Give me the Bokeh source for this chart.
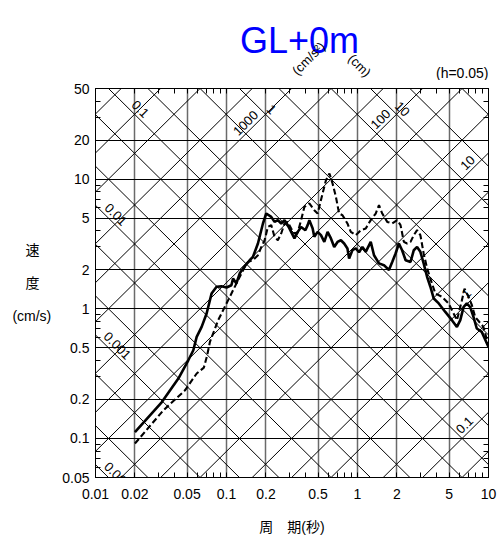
import math
from bokeh.plotting import figure
from bokeh.layouts import column
from bokeh.models import (LogAxis, FixedTicker, CustomJSTickFormatter, Label, Range1d)
from bokeh.embed import file_html
from bokeh.resources import INLINE

# ---------------- data ----------------
period_solid = [0.02, 0.0321, 0.0429, 0.0511, 0.0558, 0.0592, 0.0646, 0.0705, 0.0769, 0.084,
                0.0916, 0.1, 0.109, 0.1122, 0.119, 0.126, 0.1337, 0.1503, 0.159, 0.1738,
                0.1898, 0.201, 0.2196, 0.2326, 0.2466, 0.2616, 0.2773, 0.2937, 0.3115, 0.330,
                0.350, 0.371, 0.400, 0.4165, 0.429, 0.4546, 0.468, 0.496, 0.526, 0.558,
                0.591, 0.627, 0.664, 0.704, 0.747, 0.791, 0.838, 0.863, 0.914, 0.970,
                1.028, 1.09, 1.156, 1.262, 1.337, 1.459, 1.592, 1.738, 1.841, 1.953,
                2.07, 2.19, 2.33, 2.54, 2.69, 2.85, 3.02, 3.20, 3.40, 3.60,
                3.82, 4.17, 4.68, 5.26, 5.74, 6.09, 6.45, 6.83, 7.25, 7.68,
                8.14, 8.88, 10.0]
velocity_solid = [0.112, 0.191, 0.290, 0.401, 0.479, 0.607, 0.725, 0.920, 1.31, 1.48,
                  1.49, 1.46, 1.52, 1.71, 1.57, 1.87, 2.05, 2.37, 2.51, 3.19,
                  4.55, 5.43, 5.12, 4.68, 4.83, 4.55, 4.83, 4.42, 3.92, 3.49,
                  3.92, 4.28, 4.04, 4.42, 4.83, 4.16, 3.59, 3.92, 3.70, 3.28,
                  3.92, 3.49, 3.00, 3.28, 3.38, 3.19, 2.92, 2.44, 2.83, 2.92,
                  2.73, 3.00, 2.75, 3.28, 2.59, 2.24, 2.17, 1.99, 2.30, 2.67,
                  3.19, 2.83, 2.37, 2.30, 2.83, 3.00, 2.75, 2.24, 1.76, 1.48,
                  1.20, 1.10, 0.946, 0.817, 0.725, 0.817, 1.03, 1.10, 1.03, 0.866,
                  0.705, 0.664, 0.508]

period_dashed = [0.02, 0.033, 0.0482, 0.0592, 0.0672, 0.0712, 0.0747, 0.0864, 0.1, 0.1122,
                 0.126, 0.1378, 0.146, 0.159, 0.1738, 0.1845, 0.1954, 0.207, 0.2196, 0.2326,
                 0.2466, 0.2616, 0.2773, 0.2937, 0.3115, 0.330, 0.350, 0.371, 0.393, 0.429,
                 0.468, 0.496, 0.5415, 0.5744, 0.611, 0.645, 0.684, 0.724, 0.768, 0.838,
                 0.889, 0.970, 1.06, 1.156, 1.262, 1.377, 1.459, 1.545, 1.687, 1.841,
                 2.01, 2.13, 2.26, 2.39, 2.54, 2.69, 2.85, 3.02, 3.20, 3.40,
                 3.60, 3.93, 4.41, 4.96, 5.74, 6.26, 6.56, 7.03, 7.46, 7.91,
                 9.15, 10.0]
velocity_dashed = [0.0914, 0.165, 0.235, 0.317, 0.352, 0.438, 0.555, 0.817, 1.10, 1.39,
                   1.76, 2.10, 2.30, 2.37, 2.59, 3.00, 3.38, 4.28, 4.42, 3.59,
                   3.38, 3.81, 4.55, 4.68, 4.16, 3.81, 3.90, 4.83, 6.11, 6.49,
                   5.76, 5.43, 7.76, 9.82, 11.06, 9.26, 7.30, 5.43, 5.27, 4.55,
                   3.92, 3.70, 4.04, 4.16, 4.83, 5.43, 6.30, 5.43, 4.68, 4.55,
                   4.83, 4.42, 3.28, 3.19, 3.28, 3.70, 4.04, 3.70, 2.67, 2.05,
                   1.71, 1.31, 1.24, 1.10, 0.817, 1.16, 1.43, 1.24, 1.07, 0.866,
                   0.725, 0.52]

x_ticks = [0.01, 0.02, 0.05, 0.1, 0.2, 0.5, 1, 2, 5, 10]
x_tick_labels = ["0.01", "0.02", "0.05", "0.1", "0.2", "0.5", "1", "2", "5", "10"]
y_ticks = [0.05, 0.1, 0.2, 0.5, 1, 2, 5, 10, 20, 50]
y_tick_labels = ["0.05", "0.1", "0.2", "0.5", "1", "2", "5", "10", "20", "50"]

# tripartite guide lines (1-2-5 series)
accel_lines = [0.02, 0.05, 0.1, 0.2, 0.5, 1, 2, 5, 10, 20, 50, 100, 200, 500,
               1000, 2000, 5000, 10000, 20000, 50000]          # cm/s^2
disp_lines = [0.00005, 0.0001, 0.0002, 0.0005, 0.001, 0.002, 0.005, 0.01, 0.02, 0.05,
              0.1, 0.2, 0.5, 1, 2, 5, 10, 20, 50, 100]          # cm

accel_labels = [0.1, 1, 10, 100, 1000]
accel_label_period = [6.56, 6.79, 6.92, 1.50, 0.140]
disp_labels = [0.0001, 0.001, 0.01, 0.1, 1, 10]
disp_label_period = [0.0155, 0.0147, 0.0143, 0.022, 0.221, 2.2]

title_text = "GL+0m"
damping_text = "(h=0.05)"
accel_unit = "(cm/s\u00b2)"
disp_unit = "(cm)"
PAD = "\u00a0\u00a0\u00a0"   # keeps the single characters centred over "(cm/s)"
y_label = "速" + PAD + "\n度" + PAD + "\n(cm/s)"
x_label = "周\u3000期(秒)"

FONT = "Liberation Sans"
MIXED = "Liberation Sans, Noto Sans CJK JP"
X0, X1 = x_ticks[0], x_ticks[-1]
Y0, Y1 = y_ticks[0], y_ticks[-1]
TWO_PI = 2 * math.pi

BORDER_L, BORDER_R = 95, 12
W = 500
HDR_H = 80

# ---------------- header strip (title + unit captions), page-pixel coordinates ----------------
hdr = figure(width=W, height=HDR_H, x_range=Range1d(BORDER_L, W - BORDER_R),
             y_range=Range1d(HDR_H, 0),
             output_backend="svg", toolbar_location=None,
             min_border_left=BORDER_L, min_border_right=BORDER_R,
             min_border_top=0, min_border_bottom=0,
             x_axis_location=None, y_axis_location=None)
hdr.outline_line_color = None
hdr.grid.visible = False
hdr.background_fill_color = "white"
hdr.border_fill_color = "white"

hdr.add_layout(Label(x=299, y=40, text=title_text, text_align="center",
                     text_baseline="alphabetic", text_font=FONT,
                     text_font_size="36px", text_color="#0000ff"))
hdr.add_layout(Label(x=308, y=58, text=accel_unit, angle=math.pi / 4,
                     text_align="center", text_baseline="middle",
                     text_font=FONT, text_font_size="13px", text_color="black"))
hdr.add_layout(Label(x=359, y=65, text=disp_unit, angle=-math.pi / 4,
                     text_align="center", text_baseline="middle",
                     text_font=FONT, text_font_size="13px", text_color="black"))
hdr.add_layout(Label(x=W - BORDER_R, y=72, text=damping_text, text_align="right",
                     text_baseline="middle", text_font=FONT,
                     text_font_size="14px", text_color="black"))

# ---------------- main tripartite chart ----------------
p = figure(width=W, height=537 - HDR_H, x_axis_type="log", y_axis_type="log",
           x_range=Range1d(X0, X1), y_range=Range1d(Y0, Y1),
           output_backend="svg", toolbar_location=None,
           min_border_left=BORDER_L, min_border_right=BORDER_R,
           min_border_top=8, min_border_bottom=60)
p.background_fill_color = "white"
p.border_fill_color = "white"
p.outline_line_color = "black"
p.outline_line_width = 1


def minor_list(lo, hi):
    out = []
    for k in range(-6, 4):
        for m in range(1, 10):
            v = m * 10 ** k
            if lo * 0.999 < v < hi * 1.001:
                out.append(v)
    return out


xt = FixedTicker(ticks=x_ticks, minor_ticks=minor_list(X0, X1))
yt = FixedTicker(ticks=y_ticks, minor_ticks=minor_list(Y0, Y1))


def lookup_formatter(ticks, labels):
    code = ("const t=" + str(ticks) + "; const l=" + str(labels).replace("'", '"') +
            "; for (let i=0;i<t.length;i++){ if (Math.abs(tick-t[i])<1e-9*t[i]) return l[i]; } return '';")
    return CustomJSTickFormatter(code=code)


bx = p.xaxis[0]
ly = p.yaxis[0]
bx.ticker = xt
ly.ticker = yt
bx.formatter = lookup_formatter(x_ticks, x_tick_labels)
ly.formatter = lookup_formatter(y_ticks, y_tick_labels)
p.xgrid.ticker = xt
p.ygrid.ticker = yt

empty_fmt = CustomJSTickFormatter(code="return '';")
top = LogAxis(ticker=xt, formatter=empty_fmt)
right = LogAxis(ticker=yt, formatter=empty_fmt)
p.add_layout(top, "above")
p.add_layout(right, "right")

for ax in [bx, ly, top, right]:
    ax.major_tick_in = 0
    ax.major_tick_out = 0
    ax.minor_tick_in = 5
    ax.minor_tick_out = 0
    ax.minor_tick_line_color = "black"
    ax.minor_tick_line_width = 1
    ax.axis_line_color = "black"
    ax.axis_line_width = 1
    ax.major_label_text_font = FONT
    ax.major_label_text_font_size = "14px"
    ax.major_label_text_color = "black"
for ax in [top, right]:
    ax.major_label_standoff = 0
    ax.major_label_text_font_size = "0px"
bx.major_label_standoff = 11
ly.major_label_standoff = 6

ly.axis_label = y_label
ly.axis_label_orientation = "horizontal"
ly.axis_label_text_font = MIXED
ly.axis_label_text_font_size = "14px"
ly.axis_label_text_font_style = "normal"
ly.axis_label_text_color = "black"
ly.axis_label_text_line_height = 2.05
ly.axis_label_standoff = 8

bx.axis_label = x_label
bx.axis_label_text_font = MIXED
bx.axis_label_text_font_size = "14px"
bx.axis_label_text_font_style = "normal"
bx.axis_label_text_color = "black"
bx.axis_label_standoff = 17

p.xgrid.grid_line_color = "#6a6a6a"
p.xgrid.grid_line_width = 1.5
p.ygrid.grid_line_color = "black"
p.ygrid.grid_line_width = 1

# diagonal guide lines: constant acceleration (slope +1) and displacement (slope -1)
T_lo, T_hi = 0.001, 100.0
xs, ys = [], []
for a in accel_lines:
    xs.append([T_lo, T_hi])
    ys.append([a * T_lo / TWO_PI, a * T_hi / TWO_PI])
for d in disp_lines:
    xs.append([T_lo, T_hi])
    ys.append([TWO_PI * d / T_lo, TWO_PI * d / T_hi])
p.multi_line(xs, ys, line_color="black", line_width=1)

# spectra
p.line(period_solid, velocity_solid, line_color="black", line_width=2.6)
p.line(period_dashed, velocity_dashed, line_color="black", line_width=2.1, line_dash="6 3")

# guide line labels
for a, t in zip(accel_labels, accel_label_period):
    p.add_layout(Label(x=t, y=a * t / TWO_PI, text="%g" % a, angle=math.pi / 4,
                       text_align="center", text_baseline="middle", y_offset=11,
                       text_font=FONT, text_font_size="13px", text_color="black"))
for d, t in zip(disp_labels, disp_label_period):
    p.add_layout(Label(x=t, y=TWO_PI * d / t, text="%g" % d, angle=-math.pi / 4,
                       text_align="center", text_baseline="middle", y_offset=11,
                       text_font=FONT, text_font_size="13px", text_color="black"))

layout = column(hdr, p, spacing=0)
open("out.html", "w").write(file_html(layout, INLINE))
